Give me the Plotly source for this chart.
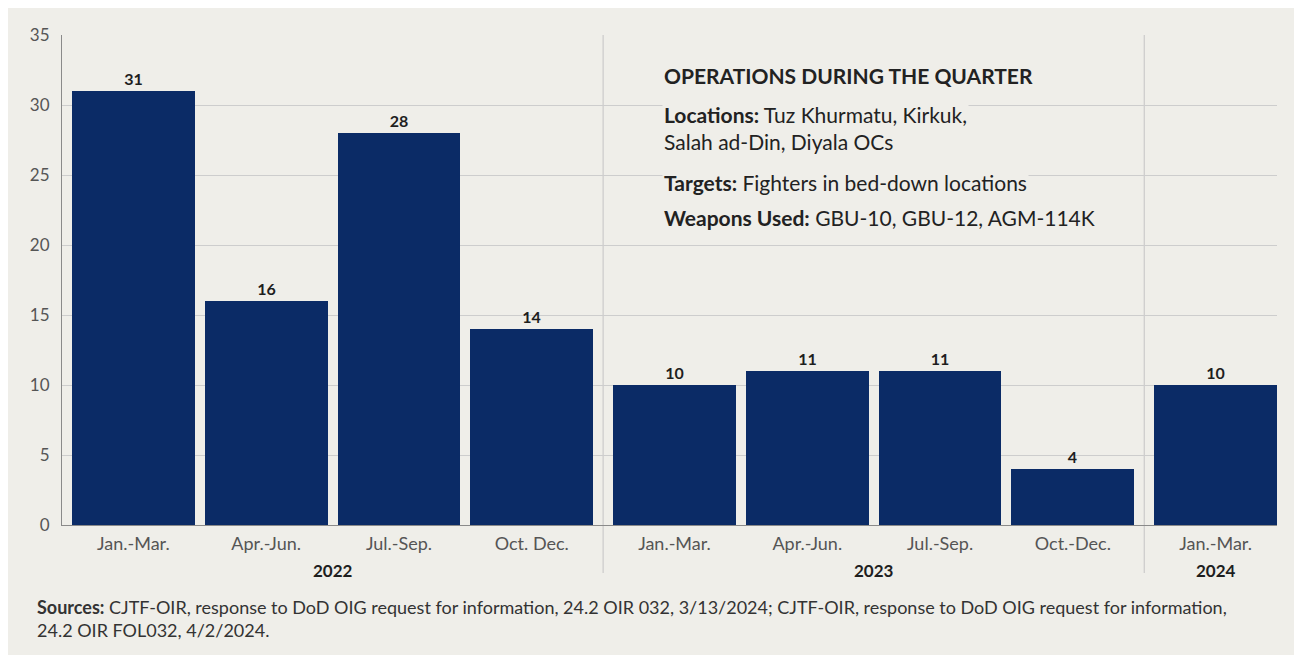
import plotly.graph_objects as go

quarters = ["Jan.-Mar.", "Apr.-Jun.", "Jul.-Sep.", "Oct. Dec.",
            "Jan.-Mar.", "Apr.-Jun.", "Jul.-Sep.", "Oct.-Dec.",
            "Jan.-Mar."]
years = ["2022", "2022", "2022", "2022",
         "2023", "2023", "2023", "2023",
         "2024"]
strikes = [31, 16, 28, 14, 10, 11, 11, 4, 10]
y_ticks = [0, 5, 10, 15, 20, 25, 30, 35]

BG = "#efeee9"
BAR = "#0b2b66"
FONT = "Lato"
GAP = 0.075  # extra spacing between year groups

year_order = []
for y in years:
    if y not in year_order:
        year_order.append(y)
xpos = [i + year_order.index(y) * GAP for i, y in enumerate(years)]

fig = go.Figure()
fig.add_trace(go.Bar(
    x=xpos, y=strikes, width=0.925,
    marker=dict(color=BAR, line=dict(width=0)),
    text=[str(v) for v in strikes], textposition="outside",
    textfont=dict(family=FONT, size=16, color="#1e1e1e", weight="bold"),
    cliponaxis=False, hoverinfo="skip",
))

shapes = []
annotations = []
for k, yr in enumerate(year_order):
    idx = [i for i, y in enumerate(years) if y == yr]
    cx = (xpos[idx[0]] + xpos[idx[-1]]) / 2
    annotations.append(dict(x=cx, y=-0.092, xref="x", yref="paper", text=f"<b>{yr}</b>",
                            showarrow=False, yanchor="middle",
                            font=dict(family=FONT, size=17, color="#1e1e1e")))
    if k > 0:
        sep = (xpos[idx[0] - 1] + xpos[idx[0]]) / 2
        shapes.append(dict(type="line", xref="x", yref="paper", x0=sep, x1=sep, y0=-0.098, y1=1,
                           line=dict(color="#c4c4c4", width=1), layer="below"))

info = [
    ("<b>OPERATIONS DURING THE QUARTER</b>", 0.918),
    ("<b>Locations:</b> Tuz Khurmatu, Kirkuk,", 0.837),
    ("Salah ad-Din, Diyala OCs", 0.782),
    ("<b>Targets:</b> Fighters in bed-down locations", 0.700),
    ("<b>Weapons Used:</b> GBU-10, GBU-12, AGM-114K", 0.627),
]
for txt, yy in info:
    annotations.append(dict(x=0.4938, y=yy, xref="paper", yref="paper", text=txt,
                            xanchor="left", yanchor="middle", showarrow=False, bgcolor=BG,
                            borderpad=1, font=dict(family=FONT, size=21, color="#222222")))

sources = [
    ("<b>Sources:</b> CJTF-OIR, response to DoD OIG request for information, 24.2 OIR 032, 3/13/2024; "
     "CJTF-OIR, response to DoD OIG request for information,", -0.167),
    ("24.2 OIR FOL032, 4/2/2024.", -0.214),
]
for txt, yy in sources:
    annotations.append(dict(x=-0.0222, y=yy, xref="paper", yref="paper", xanchor="left",
                            yanchor="middle", showarrow=False, text=txt,
                            font=dict(family=FONT, size=18, color="#333333")))

fig.update_layout(
    width=1294, height=647,
    margin=dict(l=54, r=25, t=27, b=130),
    paper_bgcolor=BG, plot_bgcolor=BG,
    showlegend=False, bargap=0,
    shapes=shapes, annotations=annotations,
    xaxis=dict(range=[xpos[0] - 0.5376, xpos[-1] + 0.4624], tickvals=xpos, ticktext=quarters,
               showgrid=False, zeroline=False, showline=True, linecolor="#8a8a8a", linewidth=1,
               ticks="", ticklabelstandoff=2,
               tickfont=dict(family=FONT, size=18, color="#555555"), fixedrange=True),
    yaxis=dict(range=[0, 35], tickvals=y_ticks, showgrid=True, gridcolor="#cdcdcd", gridwidth=1,
               zeroline=False, showline=True, linecolor="#8a8a8a", linewidth=1, ticks="",
               ticklabelstandoff=8, tickfont=dict(family=FONT, size=17, color="#555555")),
)

fig.write_html("out.html")
